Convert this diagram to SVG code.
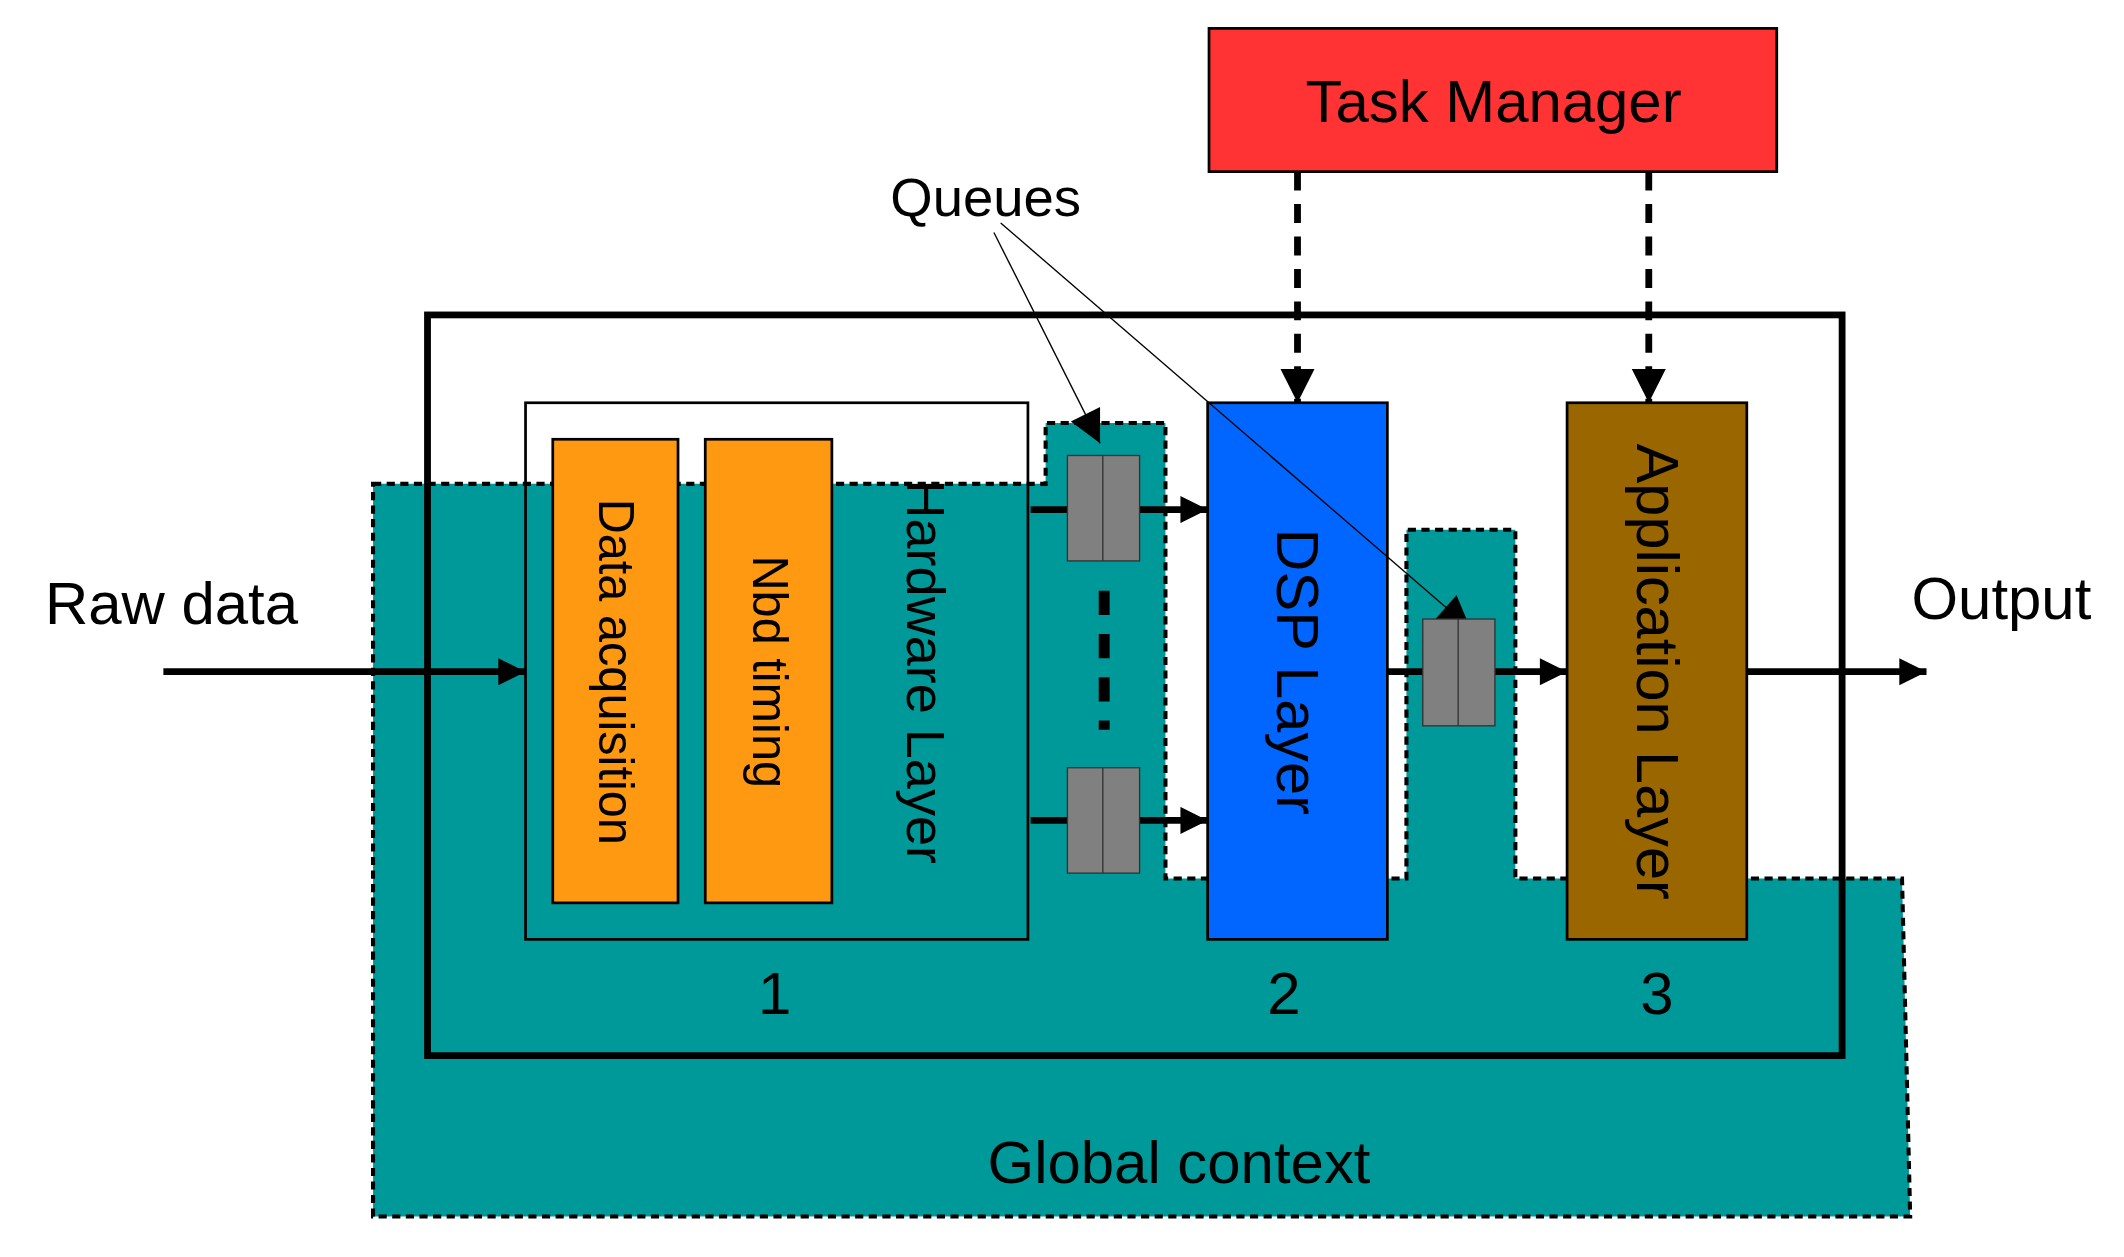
<svg xmlns="http://www.w3.org/2000/svg" width="2124" height="1257" viewBox="0 0 2124 1257">
<style>
text{font-family:"Liberation Sans",Arial,sans-serif;fill:#000;text-anchor:middle}
.q{fill:#808080;stroke:#333;stroke-width:1}
.ln{stroke:#000;stroke-width:5;fill:none}
</style>
<defs>
<marker id="ah" viewBox="0 0 10 10" refX="10" refY="5" markerWidth="6" markerHeight="4" orient="auto" markerUnits="strokeWidth"><path d="M0,0L10,5L0,10z" fill="#000"/></marker>
<marker id="ah2" viewBox="0 0 10 10" refX="10" refY="5" markerWidth="5" markerHeight="7" orient="auto" markerUnits="strokeWidth"><path d="M0,0L10,5L0,10z" fill="#000"/></marker>
<marker id="ah3" viewBox="0 0 10 10" refX="10" refY="5" markerWidth="28" markerHeight="24" orient="auto" markerUnits="strokeWidth"><path d="M0,0L10,5L0,10z" fill="#000"/></marker>
</defs>
<g transform="scale(1.3615 1.3516)">
<g id="hw-bg"><rect x="386" y="298" width="369" height="397" fill="#fff"/></g>
<g id="global"><path d="M274,358H768V313H856V650H1033V392H1113V650H1397L1403,900H274Z" fill="#009999" stroke="#000" stroke-width="3" stroke-dasharray="6,4"/>
<text x="866" y="875" font-size="44">Global context</text></g>
<g id="outer"><rect x="314" y="233" width="1039" height="548" fill="none" stroke="#000" stroke-width="5"/></g>
<g id="hardware"><rect x="386" y="298" width="369" height="397" fill="none" stroke="#000" stroke-width="2"/>
<text transform="translate(680,497) rotate(90)" font-size="40" dy="14">Hardware Layer</text>
<text x="569" y="750" font-size="44">1</text></g>
<g id="daq"><rect x="406" y="325" width="92" height="343" fill="#FF9911" stroke="#000" stroke-width="2"/>
<text transform="translate(452,497) rotate(90)" font-size="36" dy="12">Data acquisition</text></g>
<g id="nbd"><rect x="518" y="325" width="93" height="343" fill="#FF9911" stroke="#000" stroke-width="2"/>
<text transform="translate(565,497) rotate(90)" font-size="36" dy="12">Nbd timing</text></g>
<g id="dsp"><rect x="887" y="298" width="132" height="397" fill="#0066FF" stroke="#000" stroke-width="2"/>
<text transform="translate(953,497) rotate(90)" font-size="44" dy="15">DSP Layer</text>
<text x="943" y="750" font-size="44">2</text></g>
<g id="app"><rect x="1151" y="298" width="132" height="397" fill="#996600" stroke="#000" stroke-width="2"/>
<text transform="translate(1217,497) rotate(90)" font-size="44" dy="15">Application Layer</text>
<text x="1217" y="750" font-size="44">3</text></g>
<g id="tm"><rect x="888" y="21" width="417" height="106" fill="#FF3333" stroke="#000" stroke-width="2"/>
<text x="1097" y="90" font-size="44">Task Manager</text></g>
<g id="connectors">
<path class="ln" d="M120,497H386" marker-end="url(#ah)"/>
<path class="ln" d="M757,377H887" marker-end="url(#ah)"/>
<path class="ln" d="M757,607H887" marker-end="url(#ah)"/>
<path class="ln" d="M1019,497H1151" marker-end="url(#ah)"/>
<path class="ln" d="M1283,497H1415" marker-end="url(#ah)"/>
<path class="ln" d="M953,127V298" stroke-dasharray="14,10" marker-end="url(#ah2)"/>
<path class="ln" d="M1211,127V298" stroke-dasharray="14,10" marker-end="url(#ah2)"/>
<path d="M730,172L808,328" stroke="#000" stroke-width="1" marker-end="url(#ah3)"/>
<path d="M735,165L1080,465" stroke="#000" stroke-width="1" marker-end="url(#ah3)"/>
<path d="M811,437V540" stroke="#000" stroke-width="8" stroke-dasharray="18,14"/>
</g>
<g id="queue1"><rect class="q" x="784" y="337" width="53" height="78"/><path d="M810,337V415" stroke="#333"/></g>
<g id="queue2"><rect class="q" x="784" y="568" width="53" height="78"/><path d="M810,568V646" stroke="#333"/></g>
<g id="queue3"><rect class="q" x="1045" y="458" width="53" height="79"/><path d="M1071,458V537" stroke="#333"/></g>
<g id="labels">
<text x="724" y="160" font-size="40">Queues</text>
<text x="126" y="462" font-size="44">Raw data</text>
<text x="1470" y="458" font-size="44">Output</text>
</g>
</g>
</svg>
